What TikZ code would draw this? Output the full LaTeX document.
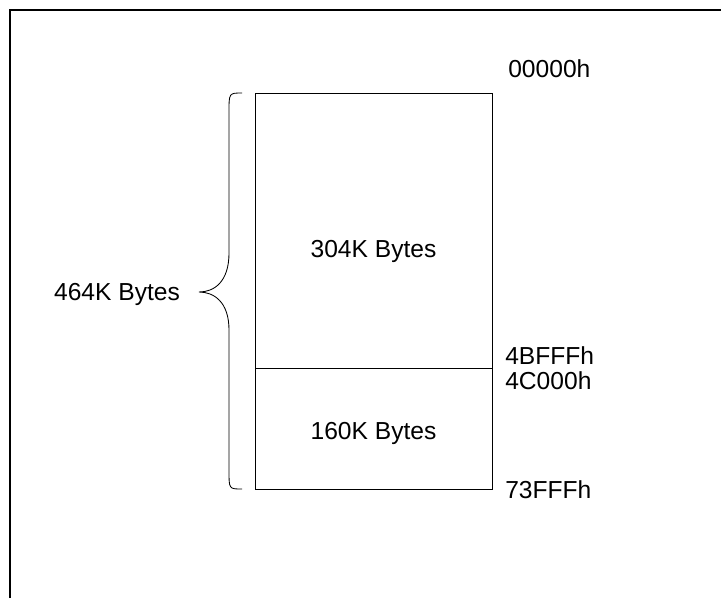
\documentclass[tikz,border=0pt]{standalone}
\usepackage{fontspec}
\setmainfont{Liberation Sans}
\usepackage{tikz}
\usetikzlibrary{positioning}

\begin{document}
\begin{tikzpicture}
    [
      Part/.style={rectangle, draw=black, line width=0.7pt, inner sep=0pt, minimum width=5.925cm},
      Label/.style={rectangle, inner sep=0pt, font=\fontsize{17.5}{20}\selectfont},
      Addr/.style={Label, anchor=west},
    ]

    \useasboundingbox (0, 0) rectangle (18.025, -14.95);

    % Frame
    \draw[line width=0.9pt] (0.25, -14.95) -- (0.25, -0.25) -- (18.025, -0.25);

    % Nodes
    \node[Part, minimum height=6.875cm] (upper) at (9.3375, -5.7625) {};
    \node[Part, minimum height=3.025cm] (lower) at (9.3375, -10.7125) {};

    \node[Label] (upperText) at (9.3375, -6.28) {304K Bytes};
    \node[Label] (lowerText) at (9.3375, -10.83) {160K Bytes};
    \node[Label] (totalText) at (2.925, -7.36) {464K Bytes};

    \node[Addr] (a0) at (12.7, -1.725) {00000h};
    \node[Addr] (a1) at (12.625, -8.9) {4BFFFh};
    \node[Addr] (a2) at (12.625, -9.525) {4C000h};
    \node[Addr] (a3) at (12.625, -12.25) {73FFFh};

    % Brace
    \draw[line width=0.6pt] (6.05, -2.325)
      .. controls (5.725, -2.325) .. (5.725, -2.8)
      -- (5.725, -6.325)
      .. controls (5.725, -7.05) and (5.35, -7.3) .. (4.975, -7.3)
      .. controls (5.35, -7.3) and (5.725, -7.55) .. (5.725, -8.25)
      -- (5.725, -11.775)
      .. controls (5.725, -12.225) .. (6.05, -12.225);

\end{tikzpicture}
\end{document}
